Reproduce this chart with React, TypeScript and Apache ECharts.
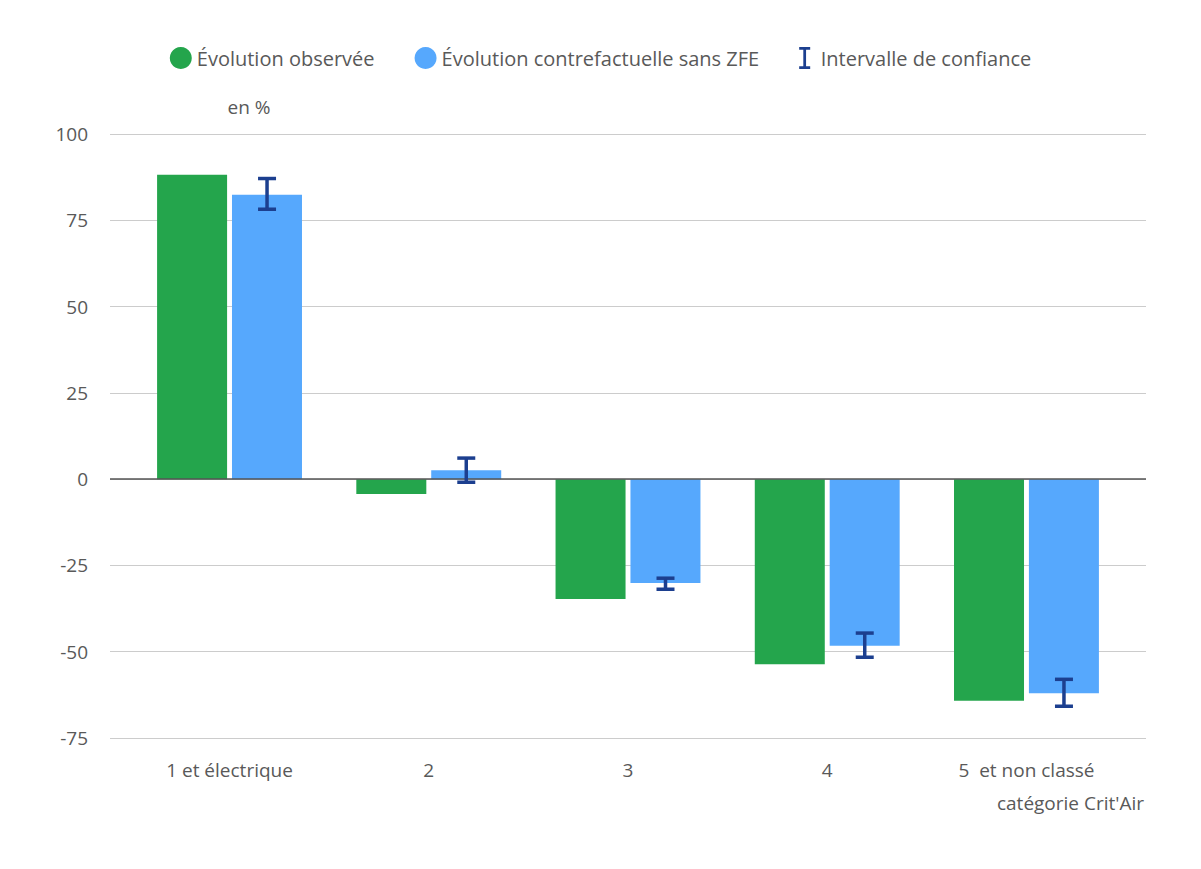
import React, { useEffect, useRef } from 'react';
import * as echarts from 'echarts';

const categories = ['1 et électrique', '2', '3', '4', '5  et non classé'];
const observed = [88.2, -4.3, -34.7, -53.6, -64.2];
const counterfactual = [82.4, 2.6, -30.1, -48.3, -62.0];
const ciLow = [78.2, -0.9, -31.9, -51.6, -65.8];
const ciHigh = [87.1, 6.1, -28.7, -44.6, -58.0];
const yTicks = [100, 75, 50, 25, 0, -25, -50, -75];

const GREEN = '#24a54c';
const BLUE = '#56a8fd';
const NAVY = '#1c3f8f';
const TEXT = '#595959';
const FONT = '"Open Sans", sans-serif';

const App = () => {
  const chartRef = useRef<HTMLDivElement>(null);

  useEffect(() => {
    document.body.style.margin = '0';
    if (!chartRef.current) return;
    const chart = echarts.init(chartRef.current, null, { renderer: 'svg' });
    const idx = categories.map((_, i) => i);

    chart.setOption({
      animation: false,
      textStyle: { fontFamily: FONT },
      legend: {
        top: 42,
        left: 'center',
        itemGap: 40,
        itemWidth: 22,
        itemHeight: 22,
        textStyle: { color: TEXT, fontSize: 20, fontFamily: FONT },
        data: [
          { name: 'Évolution observée', icon: 'circle' },
          { name: 'Évolution contrefactuelle sans ZFE', icon: 'circle' },
          {
            name: 'Intervalle de confiance',
            icon: 'path://M0,0H10V2.5H6.25V17.5H10V20H0V17.5H3.75V2.5H0Z',
            itemStyle: { color: NAVY },
          },
        ],
      },
      grid: { left: 110, right: 55, top: 134, bottom: 131 },
      xAxis: {
        type: 'value',
        min: -0.6,
        max: 4.6,
        splitLine: { show: false },
        axisLine: { show: false },
        axisTick: { show: false },
        axisLabel: {
          customValues: idx,
          formatter: (v: number) => categories[Math.round(v)] ?? '',
          color: TEXT,
          fontSize: 19,
          margin: 22,
        },
      },
      yAxis: {
        type: 'value',
        min: -75,
        max: 100,
        interval: 25,
        name: 'en %',
        nameLocation: 'end',
        nameGap: 18,
        nameTextStyle: { color: TEXT, fontSize: 19, align: 'left', padding: [0, 0, 0, -2] },
        axisLine: { show: false },
        axisTick: { show: false },
        axisLabel: { color: TEXT, fontSize: 19, margin: 22 },
        splitLine: { lineStyle: { color: '#cccccc' } },
      },
      graphic: [
        {
          type: 'text',
          right: 57,
          top: 793,
          style: { text: "catégorie Crit'Air", fill: TEXT, fontSize: 19, fontFamily: FONT },
        },
      ],
      series: [
        {
          name: 'Évolution observée',
          type: 'bar',
          barWidth: 70,
          barGap: '7%',
          itemStyle: { color: GREEN },
          data: observed.map((v, i) => [i, v]),
          markLine: {
            silent: true,
            symbol: 'none',
            label: { show: false },
            lineStyle: { color: '#555555', width: 1.5, type: 'solid' },
            data: [{ yAxis: 0 }],
          },
        },
        {
          name: 'Évolution contrefactuelle sans ZFE',
          type: 'bar',
          barWidth: 70,
          barGap: '7%',
          itemStyle: { color: BLUE },
          data: counterfactual.map((v, i) => [i, v]),
        },
        {
          name: 'Intervalle de confiance',
          type: 'custom',
          itemStyle: { color: NAVY },
          z: 5,
          data: idx.map((i) => [i, ciLow[i], ciHigh[i]]),
          renderItem: (params: any, api: any) => {
            const x = api.value(0);
            const lo = api.coord([x, api.value(1)]);
            const hi = api.coord([x, api.value(2)]);
            const cx = lo[0] + 37.5;
            const hw = 9;
            const style = { stroke: NAVY, lineWidth: 3.5 };
            return {
              type: 'group',
              children: [
                { type: 'line', shape: { x1: cx, y1: lo[1], x2: cx, y2: hi[1] }, style },
                { type: 'line', shape: { x1: cx - hw, y1: lo[1], x2: cx + hw, y2: lo[1] }, style },
                { type: 'line', shape: { x1: cx - hw, y1: hi[1], x2: cx + hw, y2: hi[1] }, style },
              ],
            };
          },
        },
      ],
    });

    return () => chart.dispose();
  }, []);

  return <div ref={chartRef} style={{ width: 1201, height: 869 }} />;
};

export default App;
